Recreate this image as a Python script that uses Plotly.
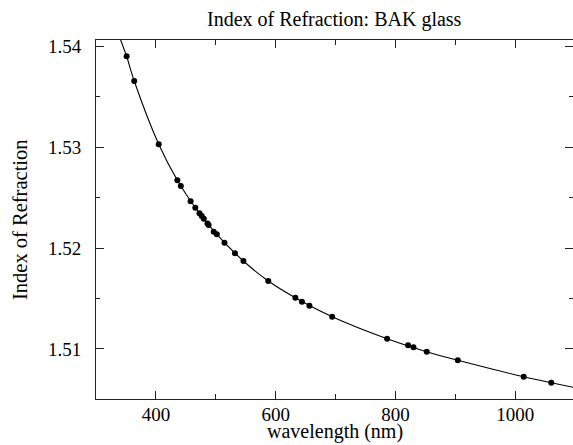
import plotly.graph_objects as go

# measured data points (wavelength in nm, index of refraction)
wavelength = [351.1, 363.8, 404.7, 435.8, 441.6, 457.9, 465.8, 472.7, 476.5, 480.0,
              486.1, 488.0, 496.5, 501.7, 514.5, 532.0, 546.1, 587.6, 632.8, 643.8,
              656.3, 694.3, 786.0, 821.0, 830.0, 852.1, 904.0, 1014.0, 1060.0]
index_n = [1.53901, 1.53656, 1.53029, 1.52672, 1.52615, 1.52464, 1.52400, 1.52345,
           1.52318, 1.52290, 1.52244, 1.52229, 1.52163, 1.52137, 1.52054, 1.51948,
           1.51872, 1.51674, 1.51508, 1.51469, 1.51429, 1.51320, 1.51102, 1.51037,
           1.51017, 1.50973, 1.50888, 1.50725, 1.50666]

# fitted curve
curve_wl = [340.0, 351.1, 363.8, 404.7, 435.8, 465.8, 501.7, 546.1, 587.6, 632.8,
            694.3, 786.0, 852.1, 904.0, 1014.0, 1060.0, 1100.0]
curve_n = [1.54080, 1.53901, 1.53656, 1.53029, 1.52672, 1.52400, 1.52137, 1.51872,
           1.51674, 1.51508, 1.51320, 1.51102, 1.50973, 1.50888, 1.50725, 1.50666,
           1.50616]

title_text = "Index of Refraction: BAK glass"
x_title = "wavelength (nm)"
y_title = "Index of Refraction"

FONT = "Liberation Serif"
W, H = 573, 445
L, R, T, B = 96, 0, 40, 46
XR = [300, 1096.3]
YR = [1.505044, 1.540624]

fig = go.Figure()
fig.add_trace(go.Scatter(x=curve_wl, y=curve_n, mode="lines",
                         line=dict(color="black", width=1.1, shape="spline", smoothing=0.8),
                         hoverinfo="skip", showlegend=False))
fig.add_trace(go.Scatter(x=wavelength, y=index_n, mode="markers",
                         marker=dict(color="black", size=6), showlegend=False))
# invisible trace for right-hand tick axis
fig.add_trace(go.Scatter(x=[XR[0]], y=[YR[0]], yaxis="y2", mode="markers",
                         marker=dict(opacity=0), hoverinfo="skip", showlegend=False))

axcol = "#222222"
fig.update_layout(
    width=W, height=H,
    margin=dict(l=L, r=R, t=T, b=B, pad=0, autoexpand=False),
    paper_bgcolor="white", plot_bgcolor="white",
    font=dict(family=FONT, size=19, color="black"),
    showlegend=False,
    xaxis=dict(range=XR, automargin=False, showgrid=False, zeroline=False, showline=True,
               linecolor=axcol, linewidth=1, mirror="ticks", ticks="inside", ticklen=8,
               tickcolor=axcol, tickwidth=1, tick0=0, dtick=200,
               minor=dict(ticks="inside", ticklen=5, dtick=100, tick0=0, tickcolor=axcol),
               tickfont=dict(family=FONT, size=19), ticklabelstandoff=-2),
    yaxis=dict(range=YR, automargin=False, showgrid=False, zeroline=False, showline=True,
               linecolor=axcol, linewidth=1, ticks="inside", ticklen=8, tickcolor=axcol,
               tickwidth=1, tick0=1.5, dtick=0.01, tickformat=".2f",
               minor=dict(ticks="inside", ticklen=4, dtick=0.005, tick0=1.5, tickcolor=axcol),
               tickfont=dict(family=FONT, size=19), ticklabelstandoff=10),
    yaxis2=dict(range=YR, automargin=False, overlaying="y", side="right", showgrid=False,
                zeroline=False, showline=False, ticks="inside", ticklen=8, tickcolor=axcol,
                tickwidth=1, tick0=1.5, dtick=0.01, showticklabels=False,
                minor=dict(ticks="inside", ticklen=4, dtick=0.005, tick0=1.5, tickcolor=axcol)),
    annotations=[
        dict(text=title_text, xref="paper", yref="paper", x=0.5, y=(399 - 19.5) / 359,
             xanchor="center", yanchor="middle", showarrow=False,
             font=dict(family=FONT, size=20)),
        dict(text=x_title, xref="paper", yref="paper", x=0.5, y=(399 - 431) / 359,
             xanchor="center", yanchor="middle", showarrow=False,
             font=dict(family=FONT, size=20)),
        dict(text=y_title, xref="paper", yref="paper", x=(19.5 - 96) / 477, y=0.5,
             xanchor="center", yanchor="middle", textangle=-90, showarrow=False,
             font=dict(family=FONT, size=20.5)),
    ],
)

fig.write_html("out.html", config={"displayModeBar": False},
               post_script="document.body.style.margin='0';document.body.style.padding='0';")
